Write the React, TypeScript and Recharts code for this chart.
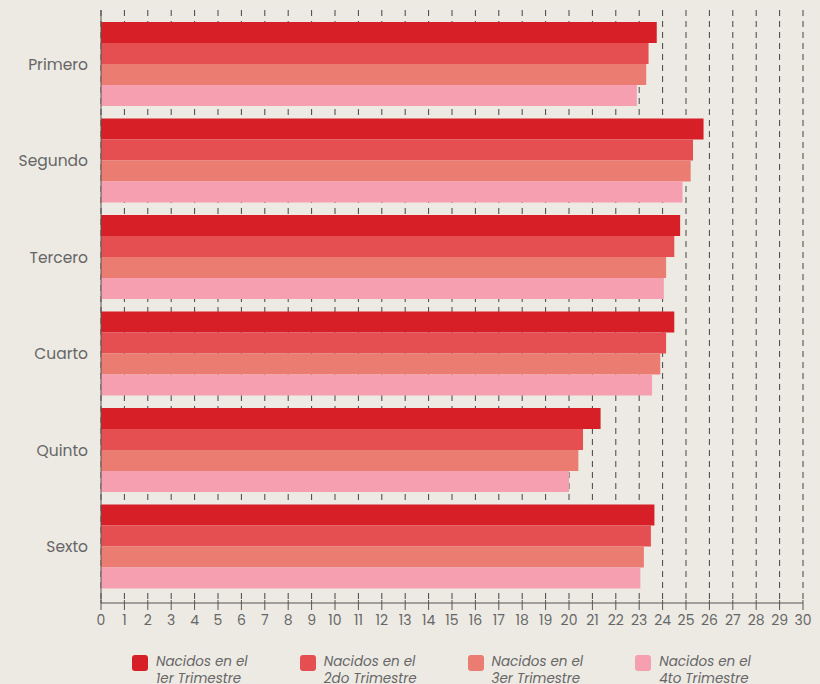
import { BarChart, Bar, XAxis, YAxis, CartesianGrid, Legend } from 'recharts';

const grados = ['Primero', 'Segundo', 'Tercero', 'Cuarto', 'Quinto', 'Sexto'];
const trimestre1 = [23.75, 25.75, 24.75, 24.5, 21.35, 23.65];
const trimestre2 = [23.4, 25.3, 24.5, 24.15, 20.6, 23.5];
const trimestre3 = [23.3, 25.2, 24.15, 23.9, 20.4, 23.2];
const trimestre4 = [22.9, 24.85, 24.05, 23.55, 20.0, 23.05];
const xTicks = Array.from({ length: 31 }, (_, i) => i);

const series = [
  { key: 't1', label: ['Nacidos en el', '1er Trimestre'], color: '#d71f28' },
  { key: 't2', label: ['Nacidos en el', '2do Trimestre'], color: '#e54f52' },
  { key: 't3', label: ['Nacidos en el', '3er Trimestre'], color: '#eb7c72' },
  { key: 't4', label: ['Nacidos en el', '4to Trimestre'], color: '#f59fb0' },
];

const data = grados.map((g, i) => ({
  grado: g,
  t1: trimestre1[i],
  t2: trimestre2[i],
  t3: trimestre3[i],
  t4: trimestre4[i],
}));

const FONT = 'Poppins, "Noto Sans", sans-serif';

// legend laid out as 4 evenly spaced items, two-line italic text
function CustomLegend() {
  return (
    <div style={{ display: 'flex', paddingLeft: 132, paddingTop: 22, fontFamily: FONT }}>
      {series.map((s) => (
        <div key={s.key} style={{ width: 169, display: 'flex', alignItems: 'flex-start' }}>
          <div
            style={{
              width: 16,
              height: 16,
              borderRadius: 3,
              background: s.color,
              marginTop: 0,
              marginRight: 8,
              flexShrink: 0,
            }}
          />
          <div style={{ fontStyle: 'italic', fontSize: 13.5, lineHeight: '17px', color: '#666', marginTop: -2 }}>
            <div>{s.label[0]}</div>
            <div>{s.label[1]}</div>
          </div>
        </div>
      ))}
    </div>
  );
}

// tick mark crossing the axis line plus the number underneath
function XTick(props: any) {
  const { x, y, payload } = props;
  return (
    <g>
      <line x1={x} x2={x} y1={y - 11} y2={y - 1} stroke="#555" strokeWidth={1} />
      <text x={x} y={y + 14} textAnchor="middle" fill="#666" fontSize={14} fontFamily={FONT}>
        {payload.value}
      </text>
    </g>
  );
}

export default function App() {
  return (
    <div style={{ width: 820, height: 684, background: '#edeae4' }}>
      <style>{`body{margin:0}`}</style>
      <BarChart
        width={820}
        height={684}
        data={data}
        layout="vertical"
        margin={{ top: 10, right: 17, bottom: 0, left: 0 }}
        barGap={0}
        barCategoryGap={6}
      >
        <CartesianGrid
          horizontal={false}
          stroke="#444"
          strokeDasharray="6 5"
        />
        <XAxis
          type="number"
          domain={[0, 30]}
          ticks={xTicks}
          interval={0}
          height={30}
          tickLine={false}
          axisLine={{ stroke: '#555' }}
          tick={<XTick />}
        />
        <YAxis
          type="category"
          dataKey="grado"
          width={101}
          padding={{ top: 6, bottom: 8 }}
          tickLine={false}
          tickMargin={7}
          axisLine={{ stroke: '#555' }}
          tick={{ fill: '#666', fontSize: 15.5, fontFamily: FONT }}
        />
        <Legend verticalAlign="bottom" height={51} content={() => <CustomLegend />} />
        {series.map((s) => (
          <Bar key={s.key} dataKey={s.key} fill={s.color} isAnimationActive={false} />
        ))}
      </BarChart>
    </div>
  );
}
